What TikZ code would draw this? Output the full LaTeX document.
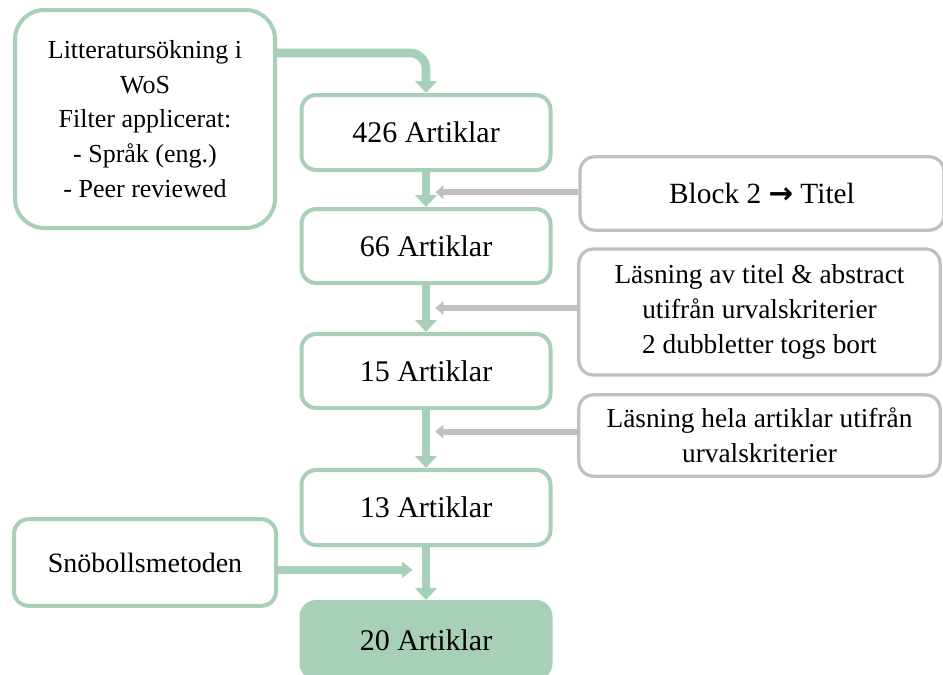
\documentclass[tikz,border=0pt]{standalone}
\usepackage{fontspec}
\setmainfont{Liberation Serif}
\newfontfamily\symfont{DejaVu Sans}
\usetikzlibrary{arrows.meta}
\definecolor{mint}{HTML}{A8D0B9}
\definecolor{greyline}{HTML}{C0C0C0}
\tikzset{
  gbox/.style={draw=mint,line width=3pt,rounded corners=11pt,align=center,
    inner sep=0pt,font=\fontsize{22.5}{27}\selectfont,fill=white},
  sbox/.style={draw=greyline,line width=2.4pt,rounded corners=11pt,align=center,
    inner sep=0pt,font=\fontsize{20.5}{26}\selectfont,fill=white},
  garrow/.style={draw=mint,line width=6.5pt,-{Triangle[width=16pt,length=9pt]}},
  grarrow/.style={draw=greyline,line width=4.5pt,-{Triangle[width=10pt,length=6pt]}}
}
\begin{document}
\begin{tikzpicture}[x=0.75pt,y=-0.75pt]
\path[use as bounding box,clip] (0,0) rectangle (943,675);

% hovedkolonne
\node[gbox,minimum width=186.75pt,minimum height=56.25pt] (a426) at (426,132.5) {426 Artiklar};
\node[gbox,minimum width=186.75pt,minimum height=55.5pt] (a66) at (426,246) {66 Artiklar};
\node[gbox,minimum width=186.75pt,minimum height=55.5pt] (a15) at (426,371) {15 Artiklar};
\node[gbox,minimum width=186.75pt,minimum height=56.25pt] (a13) at (426,507.5) {13 Artiklar};
\node[gbox,fill=mint,minimum width=186.75pt,minimum height=57pt] (a20) at (426,640) {20 Artiklar};

% vänster
\node[gbox,rounded corners=22pt,font=\fontsize{19.5}{26}\selectfont,minimum width=195pt,minimum height=163.5pt] (litt) at (145,119)
  {Litteratursökning i\\WoS\\Filter applicerat:\\- Språk (eng.)\\- Peer reviewed};
\node[gbox,font=\fontsize{21}{26}\selectfont,minimum width=196.5pt,minimum height=65pt] (snob) at (145,562.5) {Snöbollsmetoden};

% höger
\node[sbox,font=\fontsize{22}{26}\selectfont,minimum width=273pt,minimum height=55pt] (block) at (762,193.5) {Block 2 {\symfont\bfseries →} Titel};
\node[sbox,minimum width=271pt,minimum height=94.5pt] (titel) at (759.5,312)
  {Läsning av titel \& abstract\\utifrån urvalskriterier\\2 dubbletter togs bort};
\node[sbox,minimum width=271pt,minimum height=61pt] (hela) at (759.5,435.5)
  {Läsning hela artiklar utifrån\\urvalskriterier};

% pilar
\draw[garrow,rounded corners=12pt] ([yshift=49.5pt]litt.east) -| (a426.north);
\draw[garrow] (a426) -- (a66);
\draw[garrow] (a66) -- (a15);
\draw[garrow] (a15) -- (a13);
\draw[garrow] (a13) -- (a20);
\draw[grarrow] ([yshift=1pt]block.west) -- ([xshift=7pt,yshift=1pt]a426.south |- block.west);
\draw[grarrow] ([yshift=3pt]titel.west) -- ([xshift=7pt,yshift=3pt]a66.south |- titel.west);
\draw[grarrow] ([yshift=3pt]hela.west) -- ([xshift=7pt,yshift=3pt]a15.south |- hela.west);
\draw[garrow,line width=5.5pt,-{Triangle[width=12pt,length=8pt]}]
  ([yshift=-5.5pt]snob.east) -- ([xshift=-10pt,yshift=-5.5pt]a13.south |- snob.east);
\end{tikzpicture}
\end{document}
